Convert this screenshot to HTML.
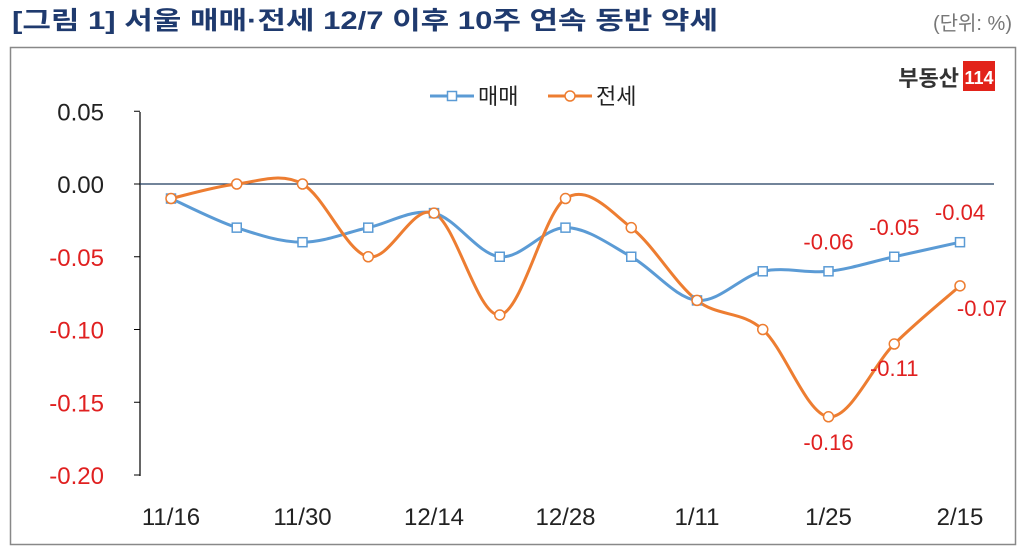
<!DOCTYPE html>
<html><head><meta charset="utf-8">
<style>
body{margin:0;width:1024px;height:552px;background:#fff;overflow:hidden;font-family:"Liberation Sans","Noto Sans CJK KR",sans-serif;}
</style></head>
<body>
<svg id="c" width="1024" height="552" xmlns="http://www.w3.org/2000/svg">
<text x="12" y="29" font-size="25" font-weight="bold" fill="#1f3a6e" textLength="706" lengthAdjust="spacingAndGlyphs" font-family="Liberation Sans,Noto Sans CJK KR,sans-serif">[그림 1] 서울 매매·전세 12/7 이후 10주 연속 동반 약세</text>
<text x="1012" y="30" font-size="20" fill="#777" text-anchor="end" font-family="Liberation Sans,Noto Sans CJK KR,sans-serif">(단위: %)</text>
<rect x="10.5" y="47.5" width="1005" height="497" fill="none" stroke="#888" stroke-width="1.5"/>
<g>
<text x="959" y="86" font-size="22" font-weight="bold" fill="#333" text-anchor="end" font-family="Noto Sans CJK KR,sans-serif">부동산</text>
<rect x="963" y="61" width="32" height="30" fill="#e2231a"/>
<text x="979" y="84" font-size="18" font-weight="bold" fill="#fff" text-anchor="middle">114</text>
</g>
<g id="plot"></g>
</svg>
<script>
const categories=['11/16','11/23','11/30','12/7','12/14','12/21','12/28','1/4','1/11','1/18','1/25','2/1','2/15'];
const tickLabels=['0.05','0.00','-0.05','-0.10','-0.15','-0.20'];
const tickValues=[0.05,0,-0.05,-0.10,-0.15,-0.20];
const saleValues=[-0.01,-0.03,-0.04,-0.03,-0.02,-0.05,-0.03,-0.05,-0.08,-0.06,-0.06,-0.05,-0.04];
const jeonseValues=[-0.01,0.00,0.00,-0.05,-0.02,-0.09,-0.01,-0.03,-0.08,-0.10,-0.16,-0.11,-0.07];
const ns='http://www.w3.org/2000/svg';
const g=document.getElementById('plot');
const x=i=>171+i*65.75;
const y=v=>184-v*1455;
function mk(t,a,txt){const e=document.createElementNS(ns,t);for(const k in a)e.setAttribute(k,a[k]);if(txt!==undefined)e.textContent=txt;g.appendChild(e);return e;}
let ax=mk('line',{x1:140,y1:112,x2:140,y2:476,stroke:'#000','stroke-width':1.2});


let zl=mk('line',{x1:140,y1:y(0),x2:994,y2:y(0),stroke:'#1f3a5e','stroke-width':1.2});


tickValues.forEach((v,i)=>{
 let tk=mk('line',{x1:134,y1:y(v),x2:140,y2:y(v),stroke:'#000'});
 
 
 let t=mk('text',{x:104,y:y(v)+9,'font-size':24,'text-anchor':'end',fill:v<0?'#e02020':'#222'},tickLabels[i]);
 
 
});
categories.forEach((c,i)=>{
 if(i%2===0){
  let t=mk('text',{x:x(i),y:525,'font-size':24,'text-anchor':'middle',fill:'#222'},c);
  
  
 }
});
function smooth(vals){
 const p=vals.map((v,i)=>[x(i),y(v)]);
 let d='M'+p[0][0]+','+p[0][1];
 for(let i=0;i<p.length-1;i++){
  const p0=p[i-1]||p[i],p1=p[i],p2=p[i+1],p3=p[i+2]||p2;
  const c1=[p1[0]+(p2[0]-p0[0])/6,p1[1]+(p2[1]-p0[1])/6];
  const c2=[p2[0]-(p3[0]-p1[0])/6,p2[1]-(p3[1]-p1[1])/6];
  d+=' C'+c1+' '+c2+' '+p2;
 }
 return d;
}
let sl=mk('path',{d:smooth(saleValues),fill:'none',stroke:'#5b9bd5','stroke-width':3});


let jl=mk('path',{d:smooth(jeonseValues),fill:'none',stroke:'#ed7d31','stroke-width':3});


saleValues.forEach((v,i)=>{
 let m=mk('rect',{x:x(i)-4.5,y:y(v)-4.5,width:9,height:9,fill:'#fff',stroke:'#5b9bd5','stroke-width':1.5});
 
 
});
jeonseValues.forEach((v,i)=>{
 let m=mk('circle',{cx:x(i),cy:y(v),r:5,fill:'#fff',stroke:'#ed7d31','stroke-width':1.5});
 
 
});
[10,11,12].forEach(i=>{
 let t=mk('text',{x:x(i),y:y(saleValues[i])-22,'font-size':22,'text-anchor':'middle',fill:'#e02020'},saleValues[i].toFixed(2));
 
 
});
[[10,0,33],[11,0,32],[12,22,30]].forEach(([i,dx,dy])=>{
 let t=mk('text',{x:x(i)+dx,y:y(jeonseValues[i])+dy,'font-size':22,'text-anchor':'middle',fill:'#e02020'},jeonseValues[i].toFixed(2));
 
 
});
let l1=mk('line',{x1:430,y1:96,x2:474,y2:96,stroke:'#5b9bd5','stroke-width':3});


let r1=mk('rect',{x:447.5,y:91.5,width:9,height:9,fill:'#fff',stroke:'#5b9bd5','stroke-width':1.5});


let t1=mk('text',{x:478,y:104,'font-size':22,fill:'#222','font-family':'Noto Sans CJK KR,sans-serif'},'매매');


let l2=mk('line',{x1:548,y1:96,x2:592,y2:96,stroke:'#ed7d31','stroke-width':3});


let c2=mk('circle',{cx:570,cy:96,r:5,fill:'#fff',stroke:'#ed7d31','stroke-width':1.5});


let t2=mk('text',{x:596,y:104,'font-size':22,fill:'#222','font-family':'Noto Sans CJK KR,sans-serif'},'전세');


</script>
</body></html>
